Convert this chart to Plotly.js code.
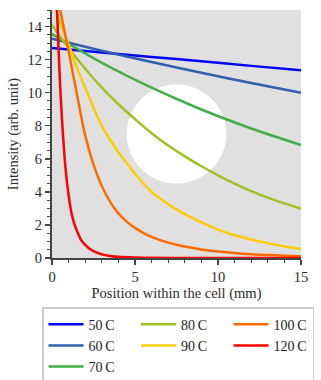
<!DOCTYPE html>
<html>
<head>
<meta charset="utf-8">
<script src="https://cdn.plot.ly/plotly-3.0.1.min.js"></script>
<style>
  html, body { margin: 0; padding: 0; background: white; }
  #chart { width: 321px; height: 380px; }
</style>
</head>
<body>
<div id="chart"></div>
<script>
// Temperatures and colours of the curves
const labels = ['50\u2009C', '60\u2009C', '70\u2009C', '80\u2009C', '90\u2009C', '100\u2009C', '120\u2009C'];
const colors = ['#0000ff', '#2f5fae', '#3fae46', '#9fc223', '#ffcc00', '#ff6a00', '#ff0000'];
// legend is filled row by row in plotly, this gives the column layout of the original
const legendRanks = [1, 4, 7, 2, 5, 3, 6];

// Intensity (position in mm)
const x50 = [0, 3, 6, 9, 12, 15];
const y50 = [12.7, 12.43, 12.16, 11.9, 11.62, 11.35];

const x60 = [0, 3, 6, 9, 12, 15];
const y60 = [13.27, 12.54, 11.85, 11.2, 10.58, 10.0];

const x70 = [0, 3, 6, 9, 12, 15];
const y70 = [13.55, 11.81, 10.3, 8.98, 7.83, 6.83];

const x80 = [0, 1, 2, 3, 4, 5, 6, 7, 8, 9, 10, 11, 12, 13, 14, 15];
const y80 = [14.1, 12.7, 11.45, 10.3, 9.3, 8.4, 7.55, 6.8, 6.15, 5.55, 5.0, 4.5, 4.05, 3.65, 3.3, 2.97];

const x90 = [0, 0.5, 1, 1.5, 2, 2.5, 3, 3.5, 4, 4.5, 5, 6, 7, 8, 9, 10, 11, 12, 13, 14, 15];
const y90 = [15.8, 14.2, 12.9, 11.5, 10.3, 9.1, 8.0, 7.15, 6.4, 5.75, 5.1, 4.0, 3.25, 2.65, 2.15, 1.72, 1.38, 1.12, 0.9, 0.7, 0.55];

const x100 = [0, 0.5, 1, 1.5, 2, 2.5, 3, 3.5, 4, 4.5, 5, 5.5, 6, 6.5, 7, 7.5, 8, 9, 10, 11, 12, 13, 14, 15];
const y100 = [18, 15, 12.5, 9.9, 7.4, 5.65, 4.35, 3.4, 2.7, 2.2, 1.82, 1.52, 1.28, 1.08, 0.93, 0.8, 0.69, 0.52, 0.4, 0.3, 0.23, 0.18, 0.14, 0.11];

const x120 = [0, 0.15, 0.3, 0.45, 0.6, 0.75, 0.9, 1.05, 1.2, 1.35, 1.5, 1.75, 2, 2.25, 2.5, 3, 3.5, 4, 5, 6, 8, 15];
const y120 = [24, 19, 15, 11.3, 8.4, 6.2, 4.6, 3.45, 2.6, 2.05, 1.65, 1.1, 0.8, 0.58, 0.42, 0.22, 0.12, 0.07, 0.03, 0.01, 0, 0];

const xs = [x50, x60, x70, x80, x90, x100, x120];
const ys = [y50, y60, y70, y80, y90, y100, y120];

const font = "'Liberation Serif', 'DejaVu Serif', serif";
const axisColor = '#444444';

const traces = labels.map((label, i) => ({
  type: 'scatter',
  mode: 'lines',
  x: xs[i],
  y: ys[i],
  name: label,
  legendrank: legendRanks[i],
  // the last legend column is narrower so the box ends like the original
  legendwidth: i >= 5 ? 34 : 42.5,
  line: { color: colors[i], width: 2.5, shape: 'spline', smoothing: 0.6 }
}));

const layout = {
  width: 321,
  height: 380,
  margin: { l: 52, r: 20, t: 10, b: 122, autoexpand: false },
  paper_bgcolor: 'white',
  plot_bgcolor: '#e0e0e0',
  font: { family: font, size: 14, color: '#2a2a2a' },
  showlegend: true,
  xaxis: {
    range: [0, 15],
    dtick: 5,
    showgrid: false,
    zeroline: false,
    showline: true,
    linecolor: axisColor,
    linewidth: 2,
    ticks: 'outside',
    ticklen: 5,
    tickwidth: 1.5,
    tickcolor: axisColor,
    tickfont: { family: font, size: 14.5 },
    minor: { dtick: 1, ticks: 'outside', ticklen: 3, tickwidth: 1, tickcolor: axisColor, showgrid: false },
    title: { text: 'Position within the cell (mm)', standoff: 3, font: { family: font, size: 14.5 } }
  },
  yaxis: {
    range: [0, 15],
    dtick: 2,
    showgrid: false,
    zeroline: false,
    showline: true,
    linecolor: axisColor,
    linewidth: 2,
    ticks: 'outside',
    ticklen: 5,
    tickwidth: 1.5,
    tickcolor: axisColor,
    tickfont: { family: font, size: 14.5 },
    minor: { dtick: 0.5, ticks: 'outside', ticklen: 3, tickwidth: 1, tickcolor: axisColor, showgrid: false },
    title: { text: 'Intensity (arb. unit)', standoff: 6, font: { family: font, size: 14.5 } }
  },
  shapes: [{
    type: 'circle',
    xref: 'x',
    yref: 'y',
    x0: 4.5, x1: 10.5,
    y0: 4.5, y1: 10.5,
    fillcolor: 'white',
    line: { width: 0 },
    layer: 'below'
  }],
  legend: {
    orientation: 'h',
    x: -0.04,
    xanchor: 'left',
    y: -0.198,
    yanchor: 'top',
    itemwidth: 35,
    entrywidthmode: 'pixels',
    bgcolor: 'white',
    bordercolor: '#cccccc',
    borderwidth: 1.5,
    font: { family: font, size: 14, color: '#222222' }
  }
};

Plotly.newPlot('chart', traces, layout, { staticPlot: true, displayModeBar: false });
</script>
</body>
</html>
